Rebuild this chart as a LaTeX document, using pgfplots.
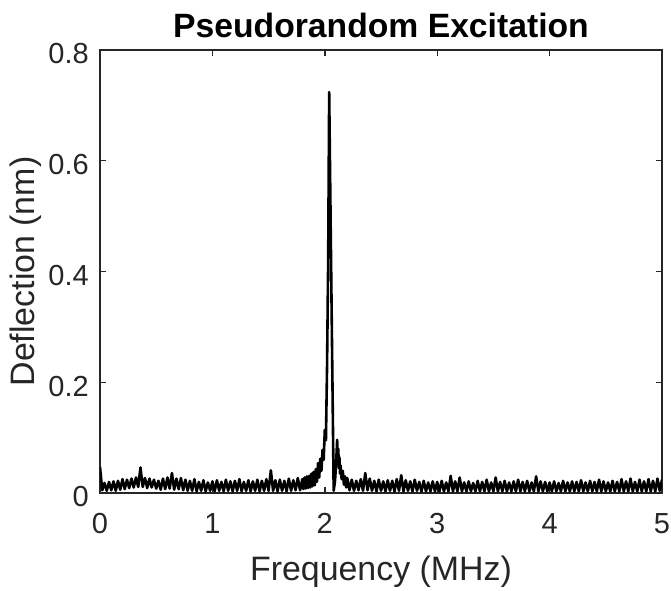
\documentclass[border=0pt]{standalone}
\usepackage{fontspec}
\setmainfont{Liberation Sans}
\usepackage{pgfplots}
\pgfplotsset{compat=1.18}
\definecolor{axgray}{rgb}{0.15,0.15,0.15}
\begin{document}
\begin{tikzpicture}
\useasboundingbox (0,0) rectangle (671bp,591bp);
\begin{axis}[
  at={(100bp,98bp)}, anchor=south west,
  width=562bp, height=443bp, scale only axis,
  xmin=0, xmax=5, ymin=0, ymax=0.8,
  xtick={0,1,2,3,4,5},
  ytick={0,0.2,0.4,0.6,0.8},
  yticklabels={0,0.2,0.4,0.6,0.8},
  tick align=inside,
  major tick length=6bp,
  axis line style={axgray, line width=1.4bp},
  every tick/.style={axgray, line width=1.4bp},
  /pgf/number format/assume math mode=true,
  ticklabel style={font=\fontsize{29bp}{34bp}\selectfont, text=axgray, inner sep=0pt},
  xticklabel style={anchor=north, yshift=-20bp},
  yticklabel style={anchor=east, xshift=-11bp, yshift=-4bp},
  title={Pseudorandom Excitation},
  title style={font=\bfseries\fontsize{33.7bp}{40bp}\selectfont, at={(axis description cs:0.5,1.0158)}, anchor=base, inner sep=0pt},
  xlabel={Frequency (MHz)},
  xlabel style={font=\fontsize{33.9bp}{40bp}\selectfont, text=axgray, at={(axis description cs:0.5,-0.1964)}, anchor=base, inner sep=0pt},
  ylabel={Deflection (nm)},
  ylabel style={font=\fontsize{33.9bp}{40bp}\selectfont, text=axgray, at={(axis description cs:-0.1170,0.5)}, anchor=base, inner sep=0pt},
]
\addplot[black, line width=2.6bp, line join=round] coordinates {
(0.00,0.047) (0.02,0.005) (0.04,0.018) (0.06,0.004) (0.08,0.020) (0.10,0.005) (0.12,0.021) (0.14,0.004) (0.16,0.022) (0.18,0.006)
(0.20,0.025) (0.22,0.007) (0.24,0.024) (0.26,0.009) (0.28,0.026) (0.30,0.010) (0.32,0.028) (0.34,0.011) (0.36,0.046) (0.38,0.011)
(0.40,0.027) (0.42,0.009) (0.44,0.026) (0.46,0.010) (0.48,0.024) (0.50,0.008) (0.52,0.022) (0.54,0.006) (0.56,0.026) (0.58,0.007)
(0.60,0.028) (0.62,0.008) (0.64,0.036) (0.66,0.006) (0.68,0.026) (0.70,0.007) (0.72,0.027) (0.74,0.005) (0.76,0.024) (0.78,0.004)
(0.80,0.022) (0.82,0.004) (0.84,0.025) (0.86,0.003) (0.88,0.020) (0.90,0.004) (0.92,0.023) (0.94,0.003) (0.96,0.019) (0.98,0.004)
(1.00,0.021) (1.02,0.003) (1.04,0.023) (1.06,0.004) (1.08,0.020) (1.10,0.003) (1.12,0.024) (1.14,0.004) (1.16,0.021) (1.18,0.003)
(1.20,0.022) (1.22,0.004) (1.24,0.025) (1.26,0.003) (1.28,0.020) (1.30,0.004) (1.32,0.023) (1.34,0.003) (1.36,0.021) (1.38,0.004)
(1.40,0.024) (1.42,0.003) (1.44,0.022) (1.46,0.004) (1.48,0.025) (1.50,0.004) (1.52,0.041) (1.54,0.004) (1.56,0.023) (1.58,0.003)
(1.60,0.024) (1.62,0.004) (1.64,0.022) (1.66,0.003) (1.68,0.026) (1.70,0.004) (1.72,0.023) (1.74,0.005) (1.76,0.027) (1.78,0.005)
(1.80,0.025) (1.81,0.007) (1.82,0.028) (1.83,0.008) (1.84,0.030) (1.85,0.009) (1.86,0.031) (1.87,0.010) (1.88,0.035) (1.89,0.012)
(1.90,0.038) (1.91,0.014) (1.92,0.043) (1.93,0.020) (1.94,0.054) (1.95,0.028) (1.96,0.062) (1.97,0.040) (1.98,0.078) (1.99,0.060)
(2.00,0.114) (2.01,0.095) (2.02,0.228) (2.03,0.420) (2.039,0.724) (2.053,0.470) (2.063,0.290) (2.079,0.004) (2.09,0.020) (2.10,0.050)
(2.11,0.096) (2.115,0.060) (2.12,0.080) (2.125,0.045) (2.13,0.065) (2.135,0.035) (2.14,0.050) (2.15,0.025) (2.16,0.040) (2.17,0.015)
(2.18,0.030) (2.19,0.010) (2.20,0.027)
(2.22,0.005) (2.24,0.024) (2.26,0.004) (2.28,0.022) (2.30,0.005) (2.32,0.025) (2.34,0.004) (2.36,0.036) (2.38,0.005)
(2.40,0.026) (2.42,0.004) (2.44,0.022) (2.46,0.003) (2.48,0.024) (2.50,0.004) (2.52,0.021) (2.54,0.003) (2.56,0.023) (2.58,0.004)
(2.60,0.022) (2.62,0.003) (2.64,0.025) (2.66,0.004) (2.68,0.032) (2.70,0.003) (2.72,0.023) (2.74,0.004) (2.76,0.021) (2.78,0.003)
(2.80,0.024) (2.82,0.004) (2.84,0.020) (2.86,0.003) (2.88,0.022) (2.90,0.003) (2.92,0.019) (2.94,0.003) (2.96,0.021) (2.98,0.003)
(3.00,0.020) (3.02,0.003) (3.04,0.022) (3.06,0.003) (3.08,0.019) (3.10,0.003) (3.12,0.031) (3.14,0.003) (3.16,0.021) (3.18,0.003)
(3.20,0.028) (3.22,0.003) (3.24,0.019) (3.26,0.003) (3.28,0.021) (3.30,0.003) (3.32,0.018) (3.34,0.003) (3.36,0.022) (3.38,0.003)
(3.40,0.020) (3.42,0.003) (3.44,0.024) (3.46,0.003) (3.48,0.019) (3.50,0.003) (3.52,0.028) (3.54,0.003) (3.56,0.020) (3.58,0.003)
(3.60,0.022) (3.62,0.003) (3.64,0.019) (3.66,0.003) (3.68,0.021) (3.70,0.003) (3.72,0.024) (3.74,0.003) (3.76,0.020) (3.78,0.003)
(3.80,0.022) (3.82,0.003) (3.84,0.019) (3.86,0.003) (3.88,0.030) (3.90,0.003) (3.92,0.021) (3.94,0.003) (3.96,0.020) (3.98,0.003)
(4.00,0.019) (4.02,0.003) (4.04,0.021) (4.06,0.003) (4.08,0.018) (4.10,0.003) (4.12,0.022) (4.14,0.003) (4.16,0.019) (4.18,0.003)
(4.20,0.021) (4.22,0.003) (4.24,0.020) (4.26,0.003) (4.28,0.023) (4.30,0.003) (4.32,0.019) (4.34,0.003) (4.36,0.022) (4.38,0.003)
(4.40,0.020) (4.42,0.003) (4.44,0.024) (4.46,0.003) (4.48,0.021) (4.50,0.003) (4.52,0.019) (4.54,0.003) (4.56,0.022) (4.58,0.003)
(4.60,0.020) (4.62,0.003) (4.64,0.025) (4.66,0.003) (4.68,0.021) (4.70,0.003) (4.72,0.026) (4.74,0.003) (4.76,0.020) (4.78,0.003)
(4.80,0.024) (4.82,0.003) (4.84,0.021) (4.86,0.003) (4.88,0.025) (4.90,0.003) (4.92,0.022) (4.94,0.003) (4.96,0.026) (4.98,0.004)
(5.00,0.024)
};
\end{axis}
\end{tikzpicture}
\end{document}
